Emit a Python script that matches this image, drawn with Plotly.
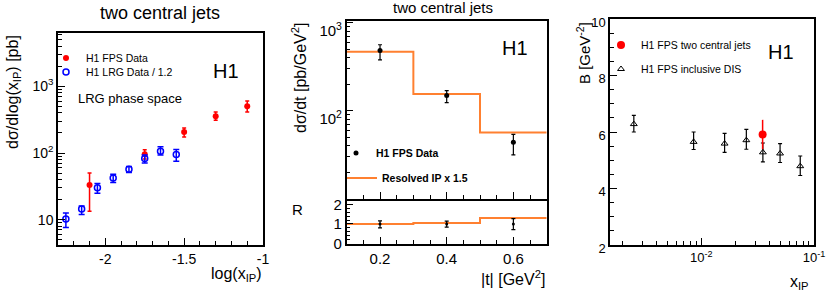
import plotly.graph_objects as go

W, H = 827, 297
FONT = "Liberation Sans, Arial, sans-serif"

# ---------------- data: panel 1 (dsigma/dlog(xIP)) ----------------
lrg_logx = [-2.25, -2.15, -2.05, -1.95, -1.85, -1.75, -1.65, -1.55]
lrg_y = [10.2, 14.4, 30, 42, 57, 83, 106, 95]
lrg_up = [2.4, 1.6, 5, 6, 6, 10, 18, 18]
lrg_dn = [2.6, 2.4, 5, 6, 6, 12, 13, 20]

fps_logx = [-2.1, -1.75, -1.5, -1.3, -1.1]
fps_y = [33, 96, 207, 355, 503]
fps_up = [17, 16, 31, 58, 100]
fps_dn = [19.6, 15, 33, 46, 90]

p1_ytickvals = [10, 100, 1000]
p1_yticktext = ["10", "10<sup>2</sup>", "10<sup>3</sup>"]
p1_xtickvals = [-2, -1.5, -1]
p1_xticktext = ["-2", "-1.5", "-1"]

# ---------------- data: panel 2 (dsigma/dt) ----------------
t_edges = [0.1, 0.3, 0.5, 0.7]
t_mc = [470, 155, 57]
t_pts = [0.2, 0.4, 0.6]
t_y = [484, 149, 44]
t_up = [79, 21, 10]
t_dn = [104, 25, 12.4]
r_mc = [1.0, 1.05, 1.30]
r_y = [1.0, 1.0, 1.0]
r_up = [0.16, 0.14, 0.27]
r_dn = [0.20, 0.16, 0.29]

p2_ytickvals = [100, 1000]
p2_yticktext = ["10<sup>2</sup>", "10<sup>3</sup>"]
p2_xtickvals = [0.2, 0.4, 0.6]
p2_xticktext = ["0.2", "0.4", "0.6"]
r_tickvals = [0, 1, 2]
r_ticktext = ["0", "1", "2"]

# ---------------- data: panel 3 (B slope) ----------------
dis_x = [0.00252, 0.00855, 0.0161, 0.0251, 0.0352, 0.050, 0.0755]
dis_B = [6.28, 5.65, 5.59, 5.71, 5.28, 5.24, 4.79]
dis_up = [0.31, 0.35, 0.36, 0.38, 0.33, 0.35, 0.36]
dis_dn = [0.28, 0.27, 0.31, 0.32, 0.34, 0.32, 0.33]
jet_x = [0.035]
jet_B = [5.91]
jet_err = [0.52]

p3_xtickvals = [0.01, 0.1]
p3_xticktext = ["10<sup>-2</sup>", "10<sup>-1</sup>"]
p3_ytickvals = [2, 4, 6, 8, 10]
p3_yticktext = ["2", "4", "6", "8", "10"]

ORANGE = "#ff8030"
RED = "#ff0000"
BLUE = "#0000ff"


def px_x(p):
    return p / W


def px_y(p):
    return 1 - p / H


fig = go.Figure()

# panel 1 traces
fig.add_trace(go.Scatter(
    x=fps_logx, y=fps_y, mode="markers", name="H1 FPS Data",
    marker=dict(color=RED, size=6, symbol="circle"),
    error_y=dict(type="data", symmetric=False, array=fps_up, arrayminus=fps_dn,
                 color=RED, thickness=1.5, width=2),
    xaxis="x", yaxis="y", legend="legend"))
fig.add_trace(go.Scatter(
    x=lrg_logx, y=lrg_y, mode="markers", name="H1 LRG Data / 1.2",
    marker=dict(color=BLUE, size=6, symbol="circle-open", line=dict(width=1.5, color=BLUE)),
    error_y=dict(type="data", symmetric=False, array=lrg_up, arrayminus=lrg_dn,
                 color=BLUE, thickness=1.5, width=3),
    xaxis="x", yaxis="y", legend="legend2"))

# panel 2 upper
fig.add_trace(go.Scatter(
    x=t_edges, y=t_mc + [t_mc[-1]], mode="lines", line_shape="hv",
    name="<b>Resolved IP x 1.5</b>", line=dict(color=ORANGE, width=2),
    xaxis="x2", yaxis="y2", legend="legend4"))
fig.add_trace(go.Scatter(
    x=t_pts, y=t_y, mode="markers", name="<b>H1 FPS Data</b>",
    marker=dict(color="black", size=5),
    error_y=dict(type="data", symmetric=False, array=t_up, arrayminus=t_dn,
                 color="black", thickness=1.2, width=2),
    xaxis="x2", yaxis="y2", legend="legend3"))
# panel 2 ratio
fig.add_trace(go.Scatter(
    x=t_edges, y=r_mc + [r_mc[-1]], mode="lines", line_shape="hv",
    line=dict(color=ORANGE, width=2), showlegend=False,
    xaxis="x3", yaxis="y3"))
fig.add_trace(go.Scatter(
    x=t_pts, y=r_y, mode="markers", marker=dict(color="black", size=3),
    error_y=dict(type="data", symmetric=False, array=r_up, arrayminus=r_dn,
                 color="black", thickness=1.2, width=2),
    showlegend=False, xaxis="x3", yaxis="y3"))

# panel 3
fig.add_trace(go.Scatter(
    x=dis_x, y=dis_B, mode="markers", name="H1 FPS inclusive DIS",
    marker=dict(color="black", size=6, symbol="triangle-up-open", line=dict(width=1, color="black")),
    error_y=dict(type="data", symmetric=False, array=dis_up, arrayminus=dis_dn,
                 color="black", thickness=1.2, width=2),
    xaxis="x4", yaxis="y4", legend="legend6"))
fig.add_trace(go.Scatter(
    x=jet_x, y=jet_B, mode="markers", name="H1 FPS two central jets",
    marker=dict(color=RED, size=8, symbol="circle"),
    error_y=dict(type="data", array=jet_err, color=RED, thickness=1.5, width=0),
    xaxis="x4", yaxis="y4", legend="legend5"))


def ax(**kw):
    d = dict(showline=True, linecolor="black", linewidth=1.5, mirror=True,
             ticks="inside", tickcolor="black", ticklen=7, tickwidth=1,
             showgrid=False, zeroline=False, tickmode="array", automargin=False,
             tickfont=dict(family=FONT, size=14, color="black"))
    d.update(kw)
    return d


def minor_lin(dt):
    return dict(ticks="inside", ticklen=4, tickcolor="black", dtick=dt, showgrid=False)


minor_log = dict(ticks="inside", ticklen=4, tickcolor="black", dtick="D1", showgrid=False)

fig.update_layout(
    template="none",
    width=W, height=H, margin=dict(l=0, r=0, t=0, b=0, pad=0, autoexpand=False),
    paper_bgcolor="white", plot_bgcolor="white",
    font=dict(family=FONT, color="black"),
    xaxis=ax(domain=[px_x(58), px_x(263)], range=[-2.3, -1.0],
             tickvals=p1_xtickvals, ticktext=p1_xticktext, minor=minor_lin(0.1), anchor="y"),
    yaxis=ax(domain=[px_y(245), px_y(33)], type="log", range=[0.62, 3.8],
             tickvals=p1_ytickvals, ticktext=p1_yticktext, minor=minor_log, anchor="x"),
    xaxis2=ax(domain=[px_x(346.7), px_x(546.7)], range=[0.1, 0.7], showticklabels=False,
              tickvals=p2_xtickvals, minor=minor_lin(0.05), anchor="y2"),
    yaxis2=ax(domain=[px_y(199), px_y(21)], type="log", range=[1.0, 3.02],
              tickvals=p2_ytickvals, ticktext=p2_yticktext, minor=minor_log, anchor="x2",
              ticklabelshift=8, tickfont=dict(family=FONT, size=15, color="black")),
    xaxis3=ax(domain=[px_x(346.7), px_x(546.7)], range=[0.1, 0.7], mirror=False,
              tickvals=p2_xtickvals, ticktext=p2_xticktext, minor=minor_lin(0.05), anchor="y3",
              tickfont=dict(family=FONT, size=15, color="black")),
    yaxis3=ax(domain=[px_y(244), px_y(199)], range=[-0.02, 2.27],
              tickvals=r_tickvals, ticktext=r_ticktext, minor=minor_lin(0.2),
              anchor="x3", tickfont=dict(family=FONT, size=15, color="black")),
    xaxis4=ax(domain=[px_x(610), px_x(814)], type="log", range=[-2.81, -1.0],
              tickvals=p3_xtickvals, ticktext=p3_xticktext, minor=minor_log, anchor="y4",
              tickfont=dict(family=FONT, size=13, color="black")),
    yaxis4=ax(domain=[px_y(245), px_y(19)], range=[2, 10],
              tickvals=p3_ytickvals, ticktext=p3_yticktext, minor=minor_lin(0.5), anchor="x4",
              ticklabelshift=3, tickfont=dict(family=FONT, size=13, color="black")),
)

leg_common = dict(xanchor="left", yanchor="middle", bgcolor="rgba(0,0,0,0)",
                  borderwidth=0, itemwidth=30, font=dict(family=FONT, size=10.5, color="black"))
fig.update_layout(
    legend=dict(x=px_x(46), y=px_y(58), **leg_common),
    legend2=dict(x=px_x(46), y=px_y(72), **leg_common),
    legend3=dict(x=px_x(336), y=px_y(153), **leg_common),
    legend4=dict(x=px_x(342), y=px_y(178), **leg_common),
    legend5=dict(x=px_x(601), y=px_y(45), **leg_common),
    legend6=dict(x=px_x(601), y=px_y(69), **leg_common),
)


def ann(text, x, y, size, xanchor="center", yanchor="middle", angle=0):
    fig.add_annotation(text=text, x=px_x(x), y=px_y(y), xref="paper", yref="paper",
                       showarrow=False, xanchor=xanchor, yanchor=yanchor, textangle=angle,
                       font=dict(family=FONT, size=size, color="black"))


ann("two central jets", 160, 13, 18)
ann("two central jets", 443, 8, 15)
ann("H1", 226, 71, 20)
ann("H1", 515, 48, 20)
ann("H1", 781, 52, 20)
ann("LRG phase space", 76, 98, 13, xanchor="left")
ann("dσ/dlog(x<sub>IP</sub>) [pb]", 13, 33, 16, yanchor="top", angle=-90)
ann("log(x<sub>IP</sub>)", 264, 274, 16, xanchor="right")
ann("dσ/dt [pb/GeV<sup>2</sup>]", 299, 21, 16, yanchor="top", angle=-90)
ann("R", 297, 209, 15)
ann("|t| [GeV<sup>2</sup>]", 547, 278, 16, xanchor="right")
ann("B [GeV<sup>-2</sup>]", 583, 20, 15, yanchor="top", angle=-90)
ann("x<sub>IP</sub>", 811, 282, 16, xanchor="right")

fig.write_html("out.html", config={"displayModeBar": False},
               post_script="document.body.style.margin='0';document.body.style.overflow='hidden';")
